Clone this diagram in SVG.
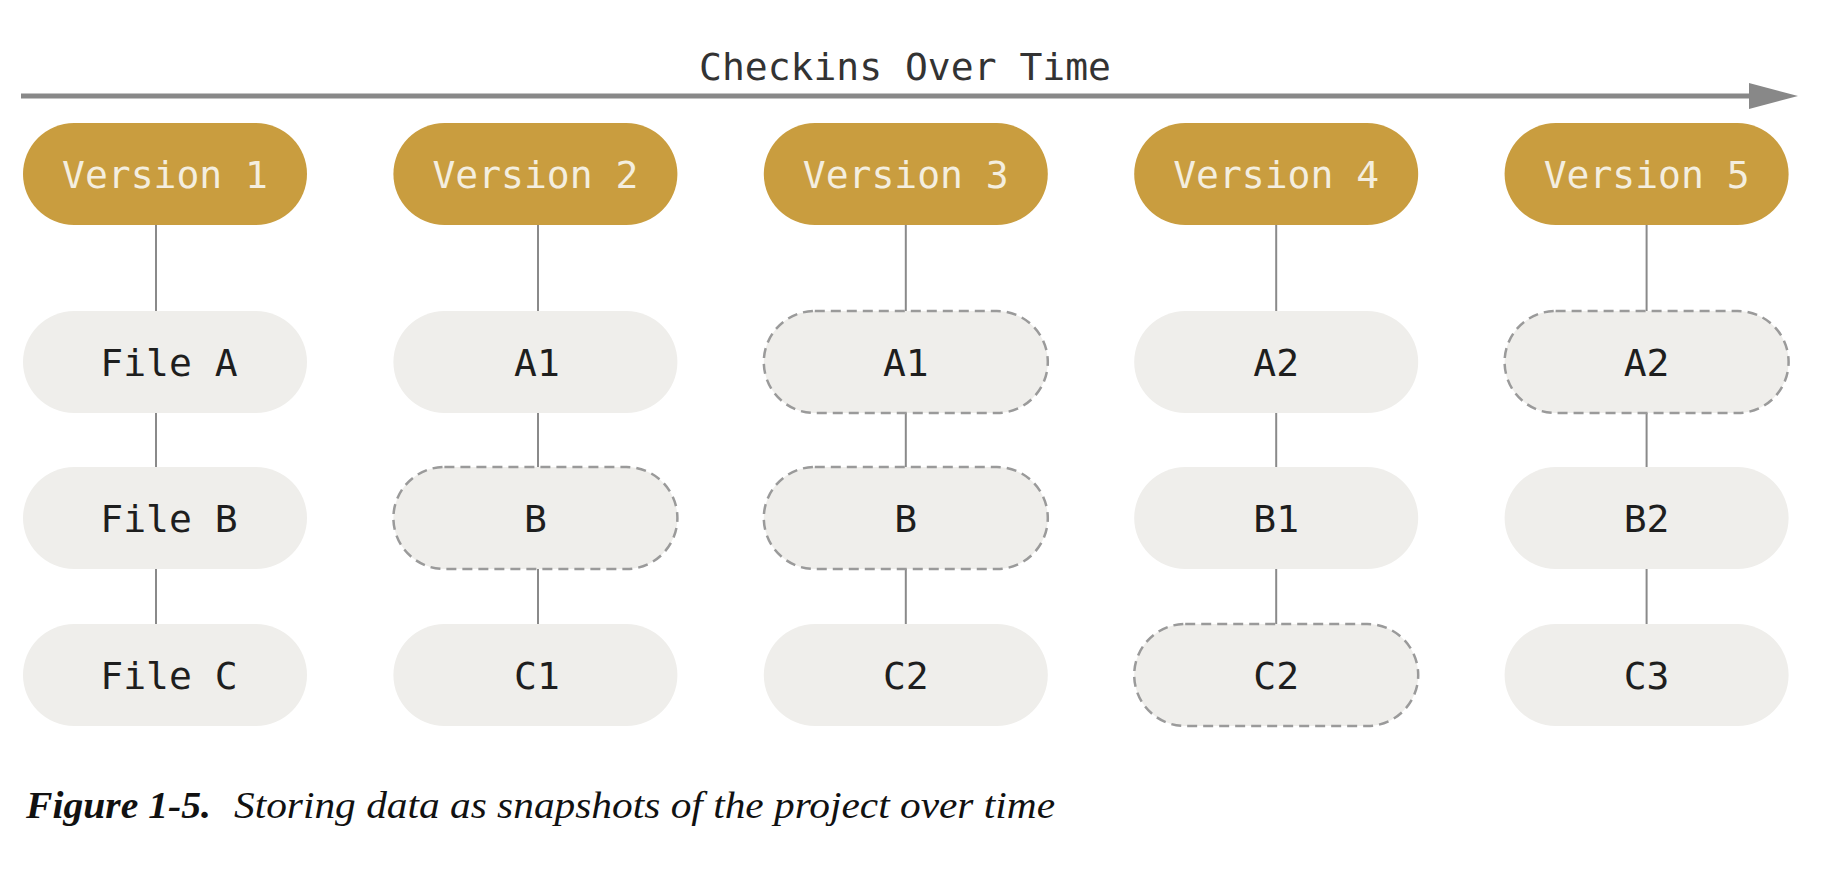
<svg xmlns="http://www.w3.org/2000/svg" width="1838" height="874" viewBox="0 0 1838 874">
<defs>
<style>
.ver rect{fill:#c99d3f}
.ver text{fill:#f4eedf;font-family:"DejaVu Sans Mono","Liberation Mono",monospace;font-size:38px;text-anchor:middle}
.file rect{fill:#efeeeb}
.file.dash rect{stroke:#9a9a9a;stroke-width:2.5;stroke-dasharray:10 6}
.file text{fill:#1e1e1e;font-family:"DejaVu Sans Mono","Liberation Mono",monospace;font-size:38px;text-anchor:middle}
.conn line{stroke:#8a8a8a;stroke-width:2}
.title{fill:#333;font-family:"DejaVu Sans Mono","Liberation Mono",monospace;font-size:38px;text-anchor:middle}
.cap{font-family:"Liberation Serif",serif;font-style:italic;font-size:38px;fill:#111}
</style>
</defs>
<rect width="1838" height="874" fill="#ffffff"/>

<g id="timeline">
<line x1="21" y1="96" x2="1752" y2="96" stroke="#888" stroke-width="5"/>
<polygon points="1749,83 1798,96 1749,109" fill="#888"/>
<text class="title" x="905" y="80">Checkins Over Time</text>
</g>

<g id="connectors" class="conn">
<line x1="156" y1="225" x2="156" y2="311"/><line x1="156" y1="413" x2="156" y2="467"/><line x1="156" y1="569" x2="156" y2="624"/>
<line x1="538" y1="225" x2="538" y2="311"/><line x1="538" y1="413" x2="538" y2="467"/><line x1="538" y1="569" x2="538" y2="624"/>
<line x1="905.8" y1="225" x2="905.8" y2="311"/><line x1="905.8" y1="413" x2="905.8" y2="467"/><line x1="905.8" y1="569" x2="905.8" y2="624"/>
<line x1="1276.2" y1="225" x2="1276.2" y2="311"/><line x1="1276.2" y1="413" x2="1276.2" y2="467"/><line x1="1276.2" y1="569" x2="1276.2" y2="624"/>
<line x1="1646.6" y1="225" x2="1646.6" y2="311"/><line x1="1646.6" y1="413" x2="1646.6" y2="467"/><line x1="1646.6" y1="569" x2="1646.6" y2="624"/>
</g>

<g id="v1" class="ver"><rect x="23" y="123" width="284" height="102" rx="51"/><text x="165" y="188">Version 1</text></g>
<g id="v2" class="ver"><rect x="393.4" y="123" width="284" height="102" rx="51"/><text x="535.4" y="188">Version 2</text></g>
<g id="v3" class="ver"><rect x="763.8" y="123" width="284" height="102" rx="51"/><text x="905.8" y="188">Version 3</text></g>
<g id="v4" class="ver"><rect x="1134.2" y="123" width="284" height="102" rx="51"/><text x="1276.2" y="188">Version 4</text></g>
<g id="v5" class="ver"><rect x="1504.6" y="123" width="284" height="102" rx="51"/><text x="1646.6" y="188">Version 5</text></g>

<g id="v1-a" class="file"><rect x="23" y="311" width="284" height="102" rx="51"/><text x="169" y="376">File A</text></g>
<g id="v1-b" class="file"><rect x="23" y="467" width="284" height="102" rx="51"/><text x="169" y="532">File B</text></g>
<g id="v1-c" class="file"><rect x="23" y="624" width="284" height="102" rx="51"/><text x="169" y="689">File C</text></g>

<g id="v2-a" class="file"><rect x="393.4" y="311" width="284" height="102" rx="51"/><text x="537" y="376">A1</text></g>
<g id="v2-b" class="file dash"><rect x="393.4" y="467" width="284" height="102" rx="51"/><text x="535.4" y="532">B</text></g>
<g id="v2-c" class="file"><rect x="393.4" y="624" width="284" height="102" rx="51"/><text x="537" y="689">C1</text></g>

<g id="v3-a" class="file dash"><rect x="763.8" y="311" width="284" height="102" rx="51"/><text x="905.8" y="376">A1</text></g>
<g id="v3-b" class="file dash"><rect x="763.8" y="467" width="284" height="102" rx="51"/><text x="905.8" y="532">B</text></g>
<g id="v3-c" class="file"><rect x="763.8" y="624" width="284" height="102" rx="51"/><text x="905.8" y="689">C2</text></g>

<g id="v4-a" class="file"><rect x="1134.2" y="311" width="284" height="102" rx="51"/><text x="1276.2" y="376">A2</text></g>
<g id="v4-b" class="file"><rect x="1134.2" y="467" width="284" height="102" rx="51"/><text x="1276.2" y="532">B1</text></g>
<g id="v4-c" class="file dash"><rect x="1134.2" y="624" width="284" height="102" rx="51"/><text x="1276.2" y="689">C2</text></g>

<g id="v5-a" class="file dash"><rect x="1504.6" y="311" width="284" height="102" rx="51"/><text x="1646.6" y="376">A2</text></g>
<g id="v5-b" class="file"><rect x="1504.6" y="467" width="284" height="102" rx="51"/><text x="1646.6" y="532">B2</text></g>
<g id="v5-c" class="file"><rect x="1504.6" y="624" width="284" height="102" rx="51"/><text x="1646.6" y="689">C3</text></g>

<g id="caption">
<text class="cap" x="26" y="818" font-weight="bold" textLength="185" lengthAdjust="spacingAndGlyphs">Figure 1-5.</text>
<text class="cap" x="234" y="818" textLength="821" lengthAdjust="spacingAndGlyphs">Storing data as snapshots of the project over time</text>
</g>
</svg>
